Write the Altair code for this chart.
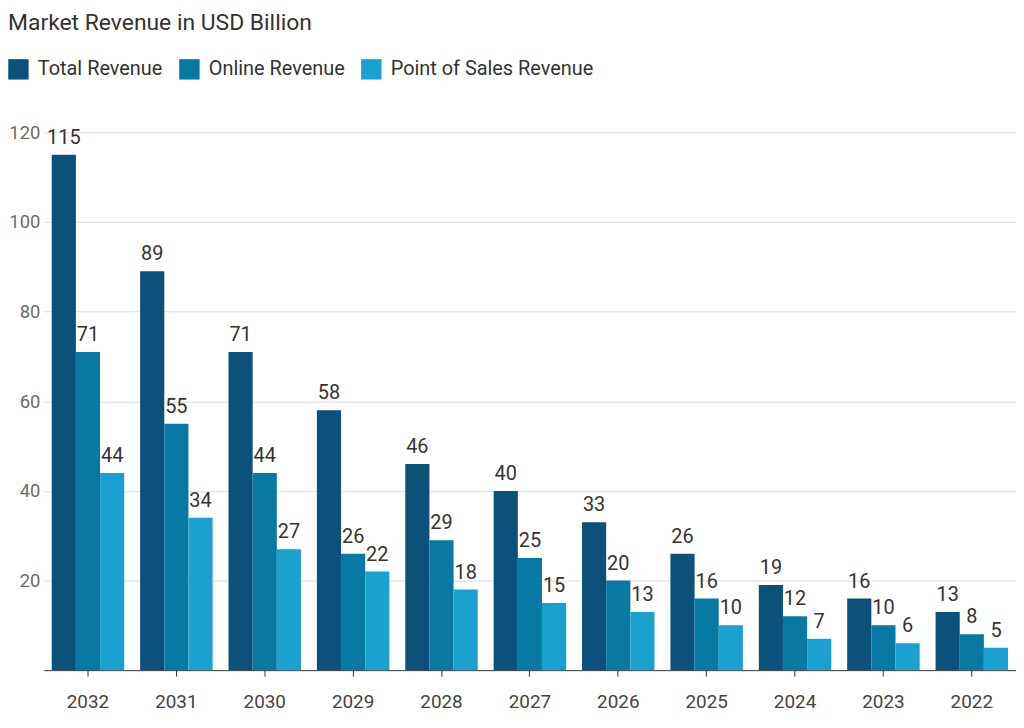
import altair as alt
import pandas as pd

years = ["2032", "2031", "2030", "2029", "2028", "2027", "2026", "2025", "2024", "2023", "2022"]
total = [115, 89, 71, 58, 46, 40, 33, 26, 19, 16, 13]
online = [71, 55, 44, 26, 29, 25, 20, 16, 12, 10, 8]
pos = [44, 34, 27, 22, 18, 15, 13, 10, 7, 6, 5]
series = ["Total Revenue", "Online Revenue", "Point of Sales Revenue"]
colors = ["#0b5179", "#0779a3", "#1ba1cf"]

rows = []
for name, vals in zip(series, [total, online, pos]):
    for y, v in zip(years, vals):
        rows.append({"Year": y, "Series": name, "Value": v})
df = pd.DataFrame(rows)

FONT = "Roboto"

x_enc = alt.X("Year:N", sort=years, title=None,
              scale=alt.Scale(paddingInner=0.18, paddingOuter=0.09),
              axis=alt.Axis(labelAngle=0, labelFontSize=19, labelColor="#444444",
                            labelFont=FONT, domainColor="#333333", tickColor="#333333",
                            tickSize=6, labelPadding=17, grid=False))
xoff = alt.XOffset("Series:N", sort=series)
y_enc = alt.Y("Value:Q", title=None,
              scale=alt.Scale(domain=[0, 120], nice=False),
              axis=alt.Axis(values=[20, 40, 60, 80, 100, 120], labelFontSize=18.5,
                            labelColor="#6b6b6b", labelFont=FONT, domain=False, ticks=False,
                            gridColor="#dddddd", labelPadding=4))

bars = alt.Chart(df).mark_bar().encode(
    x=x_enc, xOffset=xoff, y=y_enc,
    color=alt.Color("Series:N", sort=series,
                    scale=alt.Scale(domain=series, range=colors),
                    legend=alt.Legend(title=None, orient="none", direction="horizontal",
                                      legendX=-36, legendY=-74, symbolType="square",
                                      symbolSize=420, symbolStrokeWidth=0, symbolOpacity=1,
                                      labelFontSize=20, labelFont=FONT, labelColor="#333333",
                                      labelLimit=0, columnPadding=16, labelOffset=9))
)

labels = alt.Chart(df).mark_text(baseline="bottom", dy=-7, fontSize=20, font=FONT,
                                 color="#333333").encode(
    x=alt.X("Year:N", sort=years), xOffset=xoff, y="Value:Q", text="Value:Q"
)

chart = alt.layer(bars, labels).properties(
    width=978, height=541,
    padding={"left": 36, "top": 123, "right": 0, "bottom": 40},
    autosize=alt.AutoSizeParams(type="none"),
    title=alt.TitleParams("Market Revenue in USD Billion", anchor="start", frame="group",
                          dx=-36, fontSize=23, font=FONT, fontWeight="normal",
                          color="#333333", offset=24),
).configure_view(stroke=None)

chart.save("out.html", embed_options={"renderer": "svg", "actions": False})
